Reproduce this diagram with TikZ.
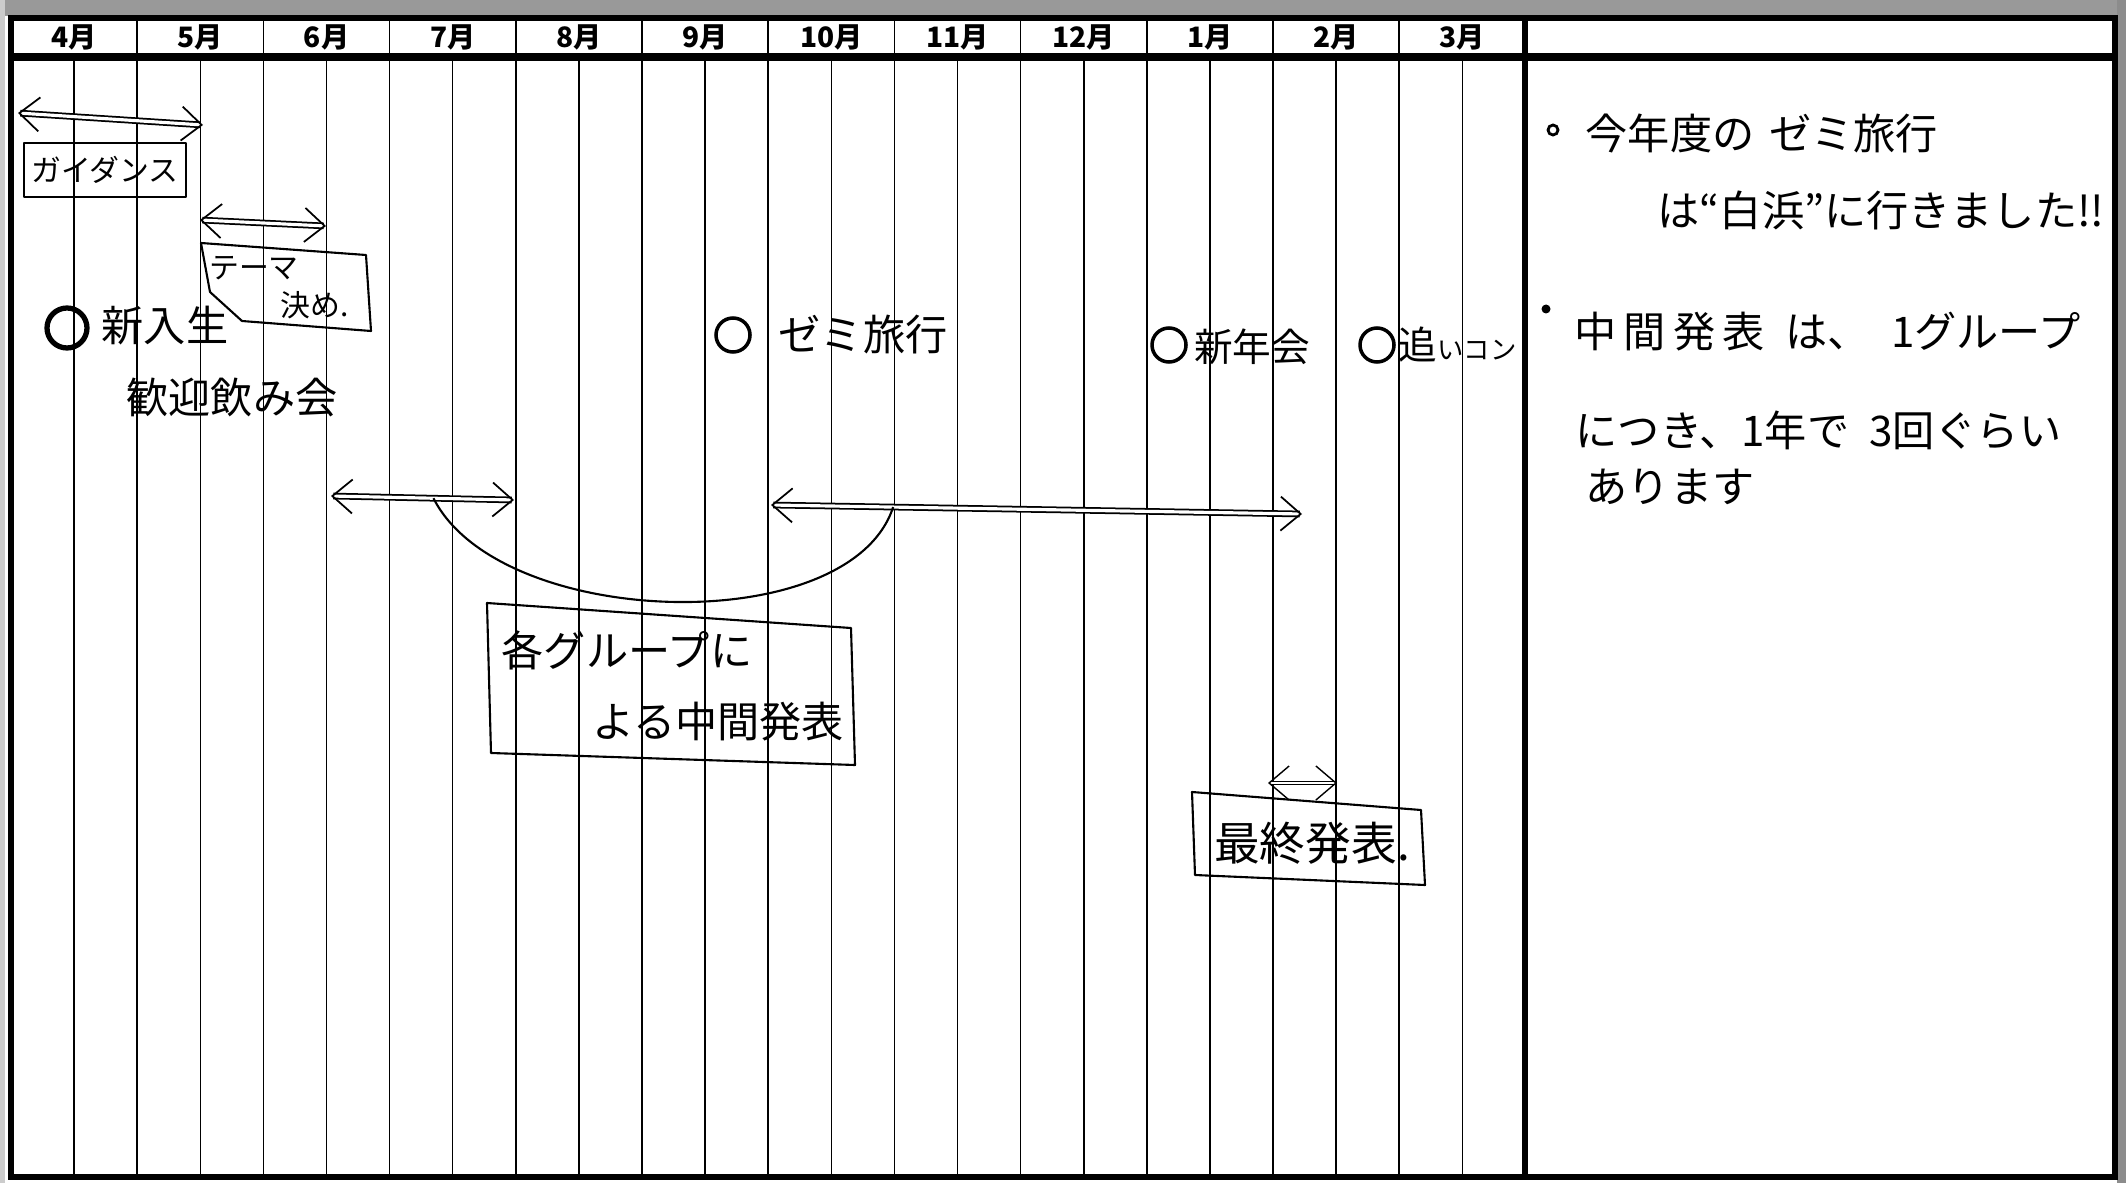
\documentclass[tikz,border=0pt]{standalone}
\usepackage{fontspec}
\usetikzlibrary{positioning,arrows.meta,calc}
\newfontfamily\jp{Noto Sans CJK JP}

\begin{document}
\begin{tikzpicture}[x=0.1mm, y=-0.1mm,
rule/.style={draw=black, line width=0.45pt},
frameline/.style={draw=black, line width=1.6pt},
month/.style={font=\jp\bfseries\fontsize{8}{9}\selectfont, inner sep=0pt},
hand/.style={font=\jp\fontsize{12}{14}\selectfont, inner sep=0pt},
small/.style={font=\jp\fontsize{8.5}{10}\selectfont, inner sep=0pt},
note/.style={font=\jp\fontsize{12}{14}\selectfont, inner sep=0pt, anchor=west},
evt/.style={circle, draw=black, line width=1pt, minimum size=3.4mm, inner sep=0pt},
tagbox/.style={draw=black, line width=0.6pt, line join=round},
period/.style={{Straight Barb[length=2mm,width=3.4mm]}-{Straight Barb[length=2mm,width=3.4mm]}, line width=0.5pt, double, double distance=0.9pt}
]
\useasboundingbox (0,0) rectangle (2126,1183);
%Paper edge
\fill[black!40] (0,0) rectangle (2126,16);
\fill[black!45] (2117,0) rectangle (2126,1183);
\fill[black!20] (0,0) rectangle (5,1183);
%Grid
\foreach \i in {0,...,12} \draw[rule] ({11+126.2*\i},18) -- ({11+126.2*\i},1177);
\foreach \i in {0,...,11} \draw[rule] ({74.1+126.2*\i},60) -- ({74.1+126.2*\i},1177);
\draw[frameline] (11,18) rectangle (2115,1177);
\draw[frameline] (1525,18) -- (1525,1177);
\draw[line width=2.2pt] (11,57) -- (2115,57);
\foreach \m [count=\i from 0] in {4,...,12,1,2,3}
  \node[month] (m\m) at ({74.1+126.2*\i},37) {\m 月};
%Nodes
\node[tagbox, small, inner sep=1pt, minimum width=16.2mm, minimum height=5.4mm] (gd) at (105,170) {ガイダンス};
\node[small] (t1) at (254,268) {テーマ};
\node[small] (t2) [below of=t1, node distance=3.7mm, xshift=6.1mm] {決め.};
\node[evt, line width=1.5pt, minimum size=4mm] (c1) at (67,328) {};
\node[hand] (e1) at (165,326) {新入生};
\node[hand] (e1b) [below of=e1, node distance=7.1mm, xshift=6.7mm] {歓迎飲み会};
\node[evt] (c2) at (733,335) {};
\node[hand] (e2) at (863,335) {ゼミ旅行};
\node[evt] (c3) at (1169,345) {};
\node[hand, font=\jp\fontsize{11}{13}\selectfont] (e3) at (1252,347) {新年会};
\node[evt] (c4) at (1377,345) {};
\node[hand, font=\jp\fontsize{11}{13}\selectfont, anchor=west] (e4) at (1398,345) {追{\fontsize{7.5}{9}\selectfont いコン}};
\node[hand] (k1) at (627,650) {各グループに};
\node[hand] (k2) [below of=k1, node distance=7.2mm, xshift=9.1mm] {よる中間発表};
\node[hand, font=\jp\fontsize{13}{15}\selectfont] (f1) at (1312,843) {最終発表.};
%Notes
\node[circle, draw, line width=0.8pt, minimum size=1mm, inner sep=0pt] (b1) at (1553,130) {};
\node[note] (n1) at (1585,133) {今年度の\hspace{1.5mm}ゼミ旅行};
\node[note] (n2) at (1657,210) {は“白浜”に行きました!!};
\node[circle, fill, minimum size=0.9mm, inner sep=0pt] (b2) at (1546,309) {};
\node[note] (n3) at (1574,332) {中\,間\,発\,表\enspace は、\enspace 1グループ};
\node[note] (n4) at (1575,430) {につき、1年で\hspace{2mm}3回ぐらい};
\node[note] (n5) at (1585,487) {あります};
%Boxes
\draw[tagbox] (201,243) -- (366,255) -- (371,331) -- (242,321) -- (210,292) -- cycle;
\draw[tagbox] (487,603) -- (851,628) -- (855,765) -- (491,753) -- cycle;
\draw[tagbox] (1192,792) -- (1421,810) -- (1425,885) -- (1195,875) -- cycle;
%Lines
\coordinate (a1l) at (18,113);   \coordinate (a1r) at (203,125);
\coordinate (a2l) at (200,220);  \coordinate (a2r) at (326,226);
\coordinate (a3l) at (331,496);  \coordinate (a3r) at (514,500);
\coordinate (a4l) at (771,505);  \coordinate (a4r) at (1302,514);
\coordinate (a5l) at (1268,783); \coordinate (a5r) at (1337,783);
\draw[period] (a1l) -- (a1r);
\draw[period] (a2l) -- (a2r);
\draw[period] (a3l) -- (a3r);
\draw[period] (a4l) -- (a4r);
\draw[period, line width=0.4pt, double distance=0.5pt] (a5l) -- (a5r);
\draw[line width=0.6pt] ($(a3l)!0.56!(a3r)$) .. controls (500,630) and (850,640) .. ($(a4l)!0.23!(a4r)$);
\end{tikzpicture}
\end{document}
